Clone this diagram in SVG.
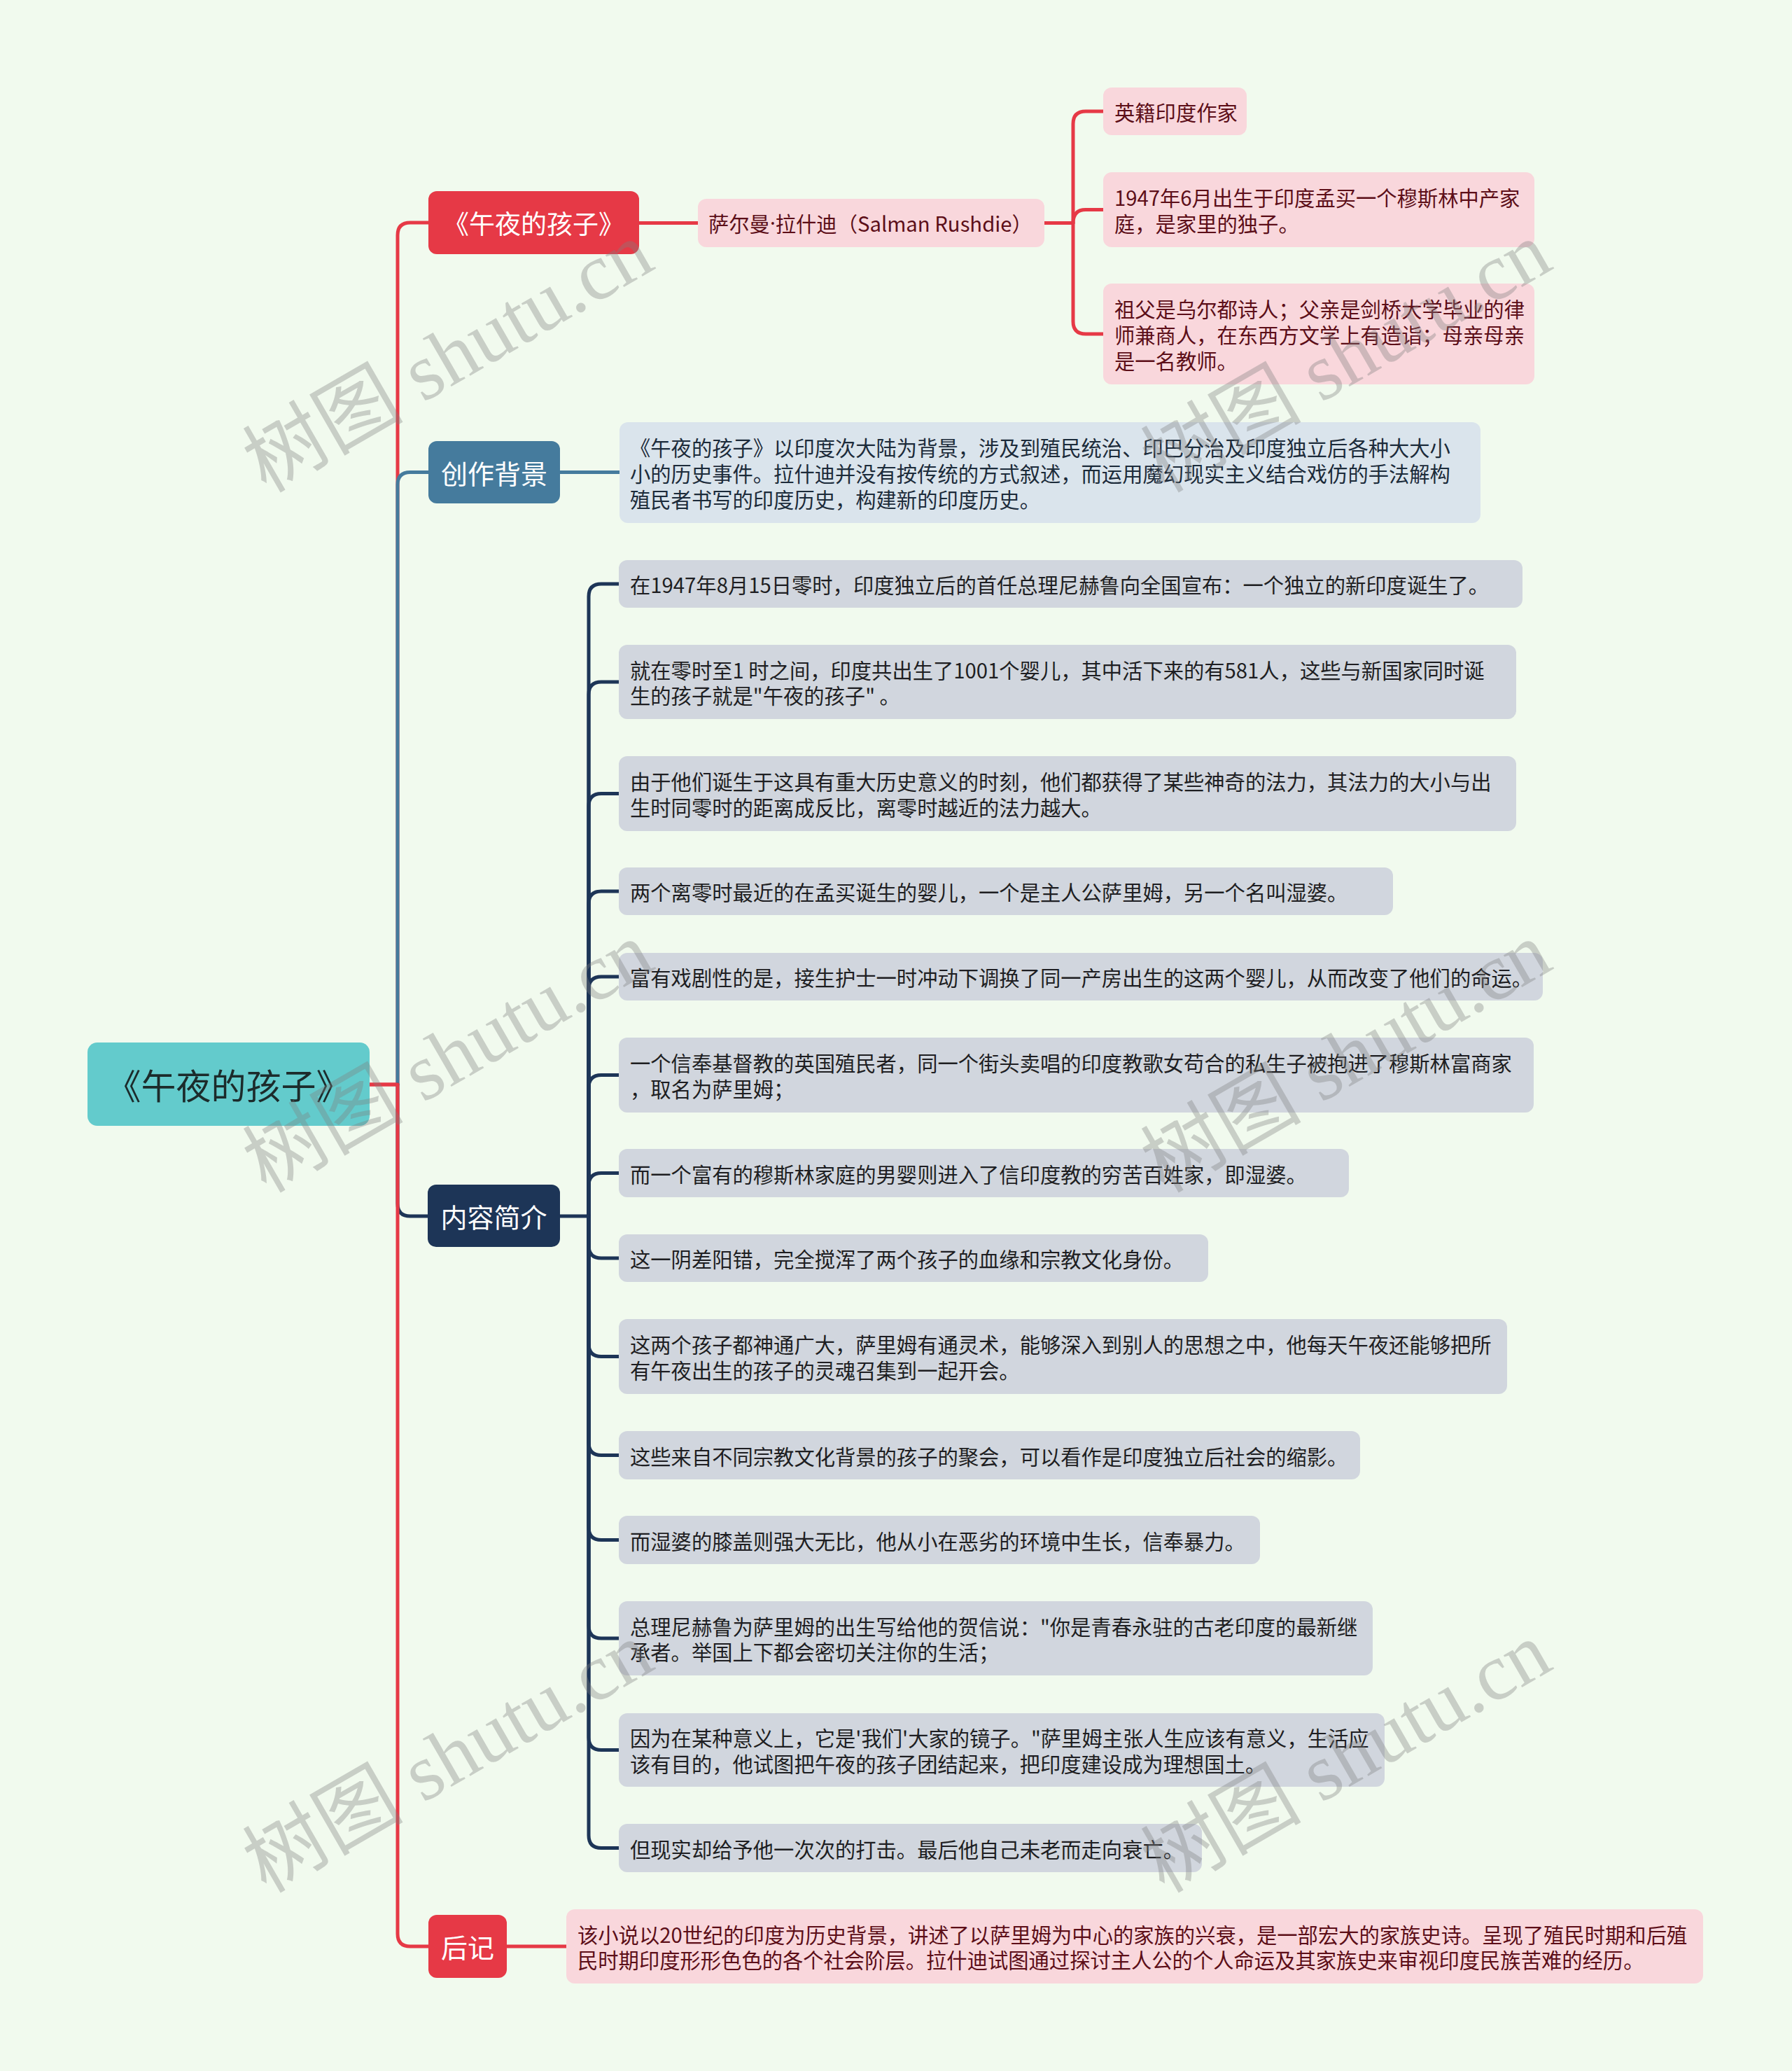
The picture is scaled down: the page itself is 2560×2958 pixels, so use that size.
<svg xmlns="http://www.w3.org/2000/svg" width="2560" height="2958" viewBox="0 0 2560 2958">
<style>
text{font-family:"Noto Sans CJK SC","Noto Sans",sans-serif;}
.leaf{font-size:29.3px;dominant-baseline:central;}
.pk{fill:#f9d7dc;}
.pkt{fill:#5c0e18;}
.gy{fill:#d1d6de;}
.gyt{fill:#1e1e22;}
.bl{fill:#dae4ec;}
.blt{fill:#1c2b3a;}
.br{font-size:38px;fill:#ffffff;text-anchor:middle;dominant-baseline:central;}
.c{fill:none;stroke-width:5;stroke-linecap:round;stroke-linejoin:round;}
.cr{stroke:#e63946;}
.cb{stroke:#457b9d;}
.cn{stroke:#1d3557;}
.wm{font-family:"Liberation Serif","Noto Sans CJK SC",serif;font-size:115px;fill:#808080;fill-opacity:0.36;}
</style>
<rect x="0" y="0" width="2560" height="2958" fill="#f1faee"/>

<g id="connectors">
<path class="c cr" d="M528,1549 H568 V336 Q568,318 586,318 H612"/>
<path class="c cb" d="M568,1549 V692.5 Q568,674.5 586,674.5 H612"/>
<path class="c cn" d="M568,1549 V1719 Q568,1737 586,1737 H611"/>
<path class="c cr" d="M528,1549 H568 V2762 Q568,2780 586,2780 H612"/>
<path class="c cr" d="M913,318.5 H997"/>
<path class="c cr" d="M1492,318.5 H1533 V177 Q1533,159 1551,159 H1576"/>
<path class="c cr" d="M1533,318.5 Q1533,299.5 1551,299.5 H1576"/>
<path class="c cr" d="M1533,318.5 V459 Q1533,477 1551,477 H1576"/>
<path class="c cb" d="M800,674.5 H885"/>
<path class="c cr" d="M724,2780 H809"/>
<path class="c cn" d="M800,1737 H841"/>
<path class="c cn" d="M841,1737 V852 Q841,834 859,834 H884"/>
<path class="c cn" d="M841,1737 V992 Q841,974 859,974 H884"/>
<path class="c cn" d="M841,1737 V1151.5 Q841,1133.5 859,1133.5 H884"/>
<path class="c cn" d="M841,1737 V1291 Q841,1273 859,1273 H884"/>
<path class="c cn" d="M841,1737 V1413 Q841,1395 859,1395 H884"/>
<path class="c cn" d="M841,1737 V1553.5 Q841,1535.5 859,1535.5 H884"/>
<path class="c cn" d="M841,1737 V1693.5 Q841,1675.5 859,1675.5 H884"/>
<path class="c cn" d="M841,1737 V1779 Q841,1797 859,1797 H884"/>
<path class="c cn" d="M841,1737 V1919.5 Q841,1937.5 859,1937.5 H884"/>
<path class="c cn" d="M841,1737 V2060.5 Q841,2078.5 859,2078.5 H884"/>
<path class="c cn" d="M841,1737 V2181.5 Q841,2199.5 859,2199.5 H884"/>
<path class="c cn" d="M841,1737 V2322 Q841,2340 859,2340 H884"/>
<path class="c cn" d="M841,1737 V2481.5 Q841,2499.5 859,2499.5 H884"/>
<path class="c cn" d="M841,1737 V2621.5 Q841,2639.5 859,2639.5 H884"/>
</g>

<g id="root">
<rect x="125" y="1489" width="403" height="119" rx="14" fill="#63cbcc"/>
<text x="326.5" y="1548" font-size="50" fill="#1c2b2b" text-anchor="middle" dominant-baseline="central">《午夜的孩子》</text>
</g>

<g id="b1">
<rect x="612" y="273" width="301" height="90" rx="12" fill="#e63946"/>
<text class="br" x="762.5" y="318" style="font-size:37px">《午夜的孩子》</text>
</g>
<g id="b1-author">
<rect class="pk" x="997" y="284" width="495" height="69" rx="12"/>
<text class="leaf pkt" x="1012" y="318">萨尔曼<tspan style="font-family:'Noto Sans',sans-serif">·</tspan>拉什迪（Salman Rushdie）</text>
</g>
<g id="b1-a1">
<rect class="pk" x="1576" y="125" width="205" height="68" rx="12"/>
<text class="leaf pkt" x="1592" y="159">英籍印度作家</text>
</g>
<g id="b1-a2">
<rect class="pk" x="1576" y="246" width="616" height="107" rx="12"/>
<text class="leaf pkt"><tspan x="1592" y="281">1947年6月出生于印度孟买一个穆斯林中产家</tspan><tspan x="1592" y="318">庭，是家里的独子。</tspan></text>
</g>
<g id="b1-a3">
<rect class="pk" x="1576" y="405" width="616" height="144" rx="12"/>
<text class="leaf pkt"><tspan x="1592" y="440">祖父是乌尔都诗人；父亲是剑桥大学毕业的律</tspan><tspan x="1592" y="477">师兼商人，在东西方文学上有造诣；母亲母亲</tspan><tspan x="1592" y="514">是一名教师。</tspan></text>
</g>

<g id="b2">
<rect x="612" y="630" width="188" height="89" rx="12" fill="#457b9d"/>
<text class="br" x="706" y="674">创作背景</text>
</g>
<g id="b2-c1">
<rect class="bl" x="885" y="603" width="1230" height="144" rx="12"/>
<text class="leaf blt"><tspan x="900" y="638">《午夜的孩子》以印度次大陆为背景，涉及到殖民统治、印巴分治及印度独立后各种大大小</tspan><tspan x="900" y="675">小的历史事件。拉什迪并没有按传统的方式叙述，而运用魔幻现实主义结合戏仿的手法解构</tspan><tspan x="900" y="712">殖民者书写的印度历史，构建新的印度历史。</tspan></text>
</g>

<g id="b3">
<rect x="611" y="1692" width="189" height="89" rx="12" fill="#1d3557"/>
<text class="br" x="705.5" y="1736">内容简介</text>
</g>
<g id="b3-c1">
<rect class="gy" x="884" y="800" width="1291" height="68" rx="12"/>
<text class="leaf gyt" x="900" y="834">在1947年8月15日零时，印度独立后的首任总理尼赫鲁向全国宣布：一个独立的新印度诞生了。</text>
</g>
<g id="b3-c2">
<rect class="gy" x="884" y="921" width="1282" height="106" rx="12"/>
<text class="leaf gyt"><tspan x="900" y="955.5">就在零时至1 时之间，印度共出生了1001个婴儿，其中活下来的有581人，这些与新国家同时诞</tspan><tspan x="900" y="992">生的孩子就是"午夜的孩子" 。</tspan></text>
</g>
<g id="b3-c3">
<rect class="gy" x="884" y="1080" width="1282" height="107" rx="12"/>
<text class="leaf gyt"><tspan x="900" y="1115">由于他们诞生于这具有重大历史意义的时刻，他们都获得了某些神奇的法力，其法力的大小与出</tspan><tspan x="900" y="1151.5">生时同零时的距离成反比，离零时越近的法力越大。</tspan></text>
</g>
<g id="b3-c4">
<rect class="gy" x="884" y="1239" width="1106" height="68" rx="12"/>
<text class="leaf gyt" x="900" y="1273">两个离零时最近的在孟买诞生的婴儿，一个是主人公萨里姆，另一个名叫湿婆。</text>
</g>
<g id="b3-c5">
<rect class="gy" x="884" y="1361" width="1320" height="68" rx="12"/>
<text class="leaf gyt" x="900" y="1395">富有戏剧性的是，接生护士一时冲动下调换了同一产房出生的这两个婴儿，从而改变了他们的命运。</text>
</g>
<g id="b3-c6">
<rect class="gy" x="884" y="1482" width="1307" height="107" rx="12"/>
<text class="leaf gyt"><tspan x="900" y="1517">一个信奉基督教的英国殖民者，同一个街头卖唱的印度教歌女苟合的私生子被抱进了穆斯林富商家</tspan><tspan x="900" y="1553.5">，取名为萨里姆；</tspan></text>
</g>
<g id="b3-c7">
<rect class="gy" x="884" y="1641" width="1043" height="69" rx="12"/>
<text class="leaf gyt" x="900" y="1675.5">而一个富有的穆斯林家庭的男婴则进入了信印度教的穷苦百姓家，即湿婆。</text>
</g>
<g id="b3-c8">
<rect class="gy" x="884" y="1763" width="842" height="68" rx="12"/>
<text class="leaf gyt" x="900" y="1797">这一阴差阳错，完全搅浑了两个孩子的血缘和宗教文化身份。</text>
</g>
<g id="b3-c9">
<rect class="gy" x="884" y="1884" width="1269" height="107" rx="12"/>
<text class="leaf gyt"><tspan x="900" y="1919">这两个孩子都神通广大，萨里姆有通灵术，能够深入到别人的思想之中，他每天午夜还能够把所</tspan><tspan x="900" y="1955.5">有午夜出生的孩子的灵魂召集到一起开会。</tspan></text>
</g>
<g id="b3-c10">
<rect class="gy" x="884" y="2044" width="1059" height="69" rx="12"/>
<text class="leaf gyt" x="900" y="2078.5">这些来自不同宗教文化背景的孩子的聚会，可以看作是印度独立后社会的缩影。</text>
</g>
<g id="b3-c11">
<rect class="gy" x="884" y="2165" width="916" height="69" rx="12"/>
<text class="leaf gyt" x="900" y="2199.5">而湿婆的膝盖则强大无比，他从小在恶劣的环境中生长，信奉暴力。</text>
</g>
<g id="b3-c12">
<rect class="gy" x="884" y="2287" width="1077" height="106" rx="12"/>
<text class="leaf gyt"><tspan x="900" y="2321.5">总理尼赫鲁为萨里姆的出生写给他的贺信说："你是青春永驻的古老印度的最新继</tspan><tspan x="900" y="2358">承者。举国上下都会密切关注你的生活；</tspan></text>
</g>
<g id="b3-c13">
<rect class="gy" x="884" y="2447" width="1094" height="105" rx="12"/>
<text class="leaf gyt"><tspan x="900" y="2481">因为在某种意义上，它是'我们'大家的镜子。"萨里姆主张人生应该有意义，生活应</tspan><tspan x="900" y="2517.5">该有目的，他试图把午夜的孩子团结起来，把印度建设成为理想国土。</tspan></text>
</g>
<g id="b3-c14">
<rect class="gy" x="884" y="2605" width="833" height="69" rx="12"/>
<text class="leaf gyt" x="900" y="2639.5">但现实却给予他一次次的打击。最后他自己未老而走向衰亡。</text>
</g>

<g id="b4">
<rect x="612" y="2735" width="112" height="90" rx="12" fill="#e63946"/>
<text class="br" x="668" y="2779">后记</text>
</g>
<g id="b4-c1">
<rect class="pk" x="809" y="2727" width="1624" height="106" rx="12"/>
<text class="leaf pkt"><tspan x="825" y="2761.5">该小说以20世纪的印度为历史背景，讲述了以萨里姆为中心的家族的兴衰，是一部宏大的家族史诗。呈现了殖民时期和后殖</tspan><tspan x="825" y="2798">民时期印度形形色色的各个社会阶层。拉什迪试图通过探讨主人公的个人命运及其家族史来审视印度民族苦难的经历。</tspan></text>
</g>

<g id="watermarks">
<text class="wm" x="380" y="705" transform="rotate(-30 380 705)">树图 shutu.cn</text>
<text class="wm" x="1663" y="705" transform="rotate(-30 1663 705)">树图 shutu.cn</text>
<text class="wm" x="380" y="1705" transform="rotate(-30 380 1705)">树图 shutu.cn</text>
<text class="wm" x="1663" y="1705" transform="rotate(-30 1663 1705)">树图 shutu.cn</text>
<text class="wm" x="380" y="2705" transform="rotate(-30 380 2705)">树图 shutu.cn</text>
<text class="wm" x="1663" y="2705" transform="rotate(-30 1663 2705)">树图 shutu.cn</text>
</g>
</svg>
